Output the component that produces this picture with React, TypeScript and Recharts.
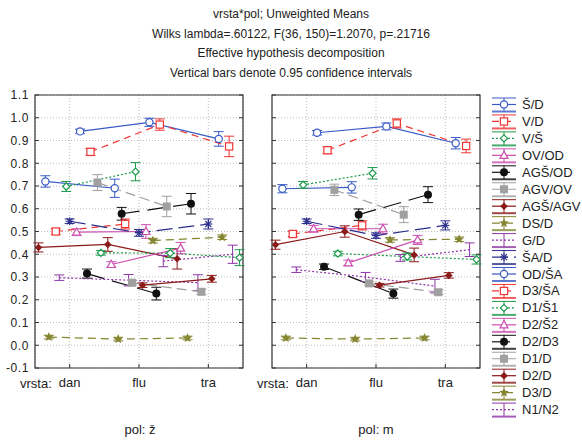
import React from 'react';
import { LineChart, Line, XAxis, YAxis, CartesianGrid, ErrorBar, ReferenceArea } from 'recharts';

const CATEGORIES = ['dan', 'flu', 'tra'];

const SERIES_NAMES = [
  'Š/D', 'V/D', 'V/Š', 'OV/OD', 'AGŠ/OD', 'AGV/OV', 'AGŠ/AGV', 'DS/D', 'G/D', 'ŠA/D',
  'OD/ŠA', 'D3/ŠA', 'D1/Š1', 'D2/Š2', 'D2/D3', 'D1/D', 'D2/D', 'D3/D', 'N1/N2',
];

// unweighted means, pol: ž  (null = point falls outside the plot)
const MEANS_F: (number | null)[][] = [
  [null, 0.72, 0.69],
  [null, 0.5, 0.533],
  [null, 0.698, 0.763],
  [null, 0.497, 0.5],
  [null, 0.315, 0.227],
  [null, 0.715, 0.61],
  [0.43, 0.443, 0.38],
  [0.036, 0.027, 0.032],
  [0.297, 0.286, 0.275],
  [0.545, 0.494, 0.533],
  [0.94, 0.98, 0.907],
  [0.85, 0.97, 0.874],
  [0.406, 0.405, 0.385],
  [0.355, 0.427, null],
  [0.578, 0.622, null],
  [0.275, 0.235, null],
  [0.264, 0.292, null],
  [0.46, 0.475, null],
  [0.37, 0.4, null],
];

// half width of the 0.95 confidence interval, pol: ž
const CI_F: (number | null)[][] = [
  [null, 0.025, 0.04],
  [null, 0.012, 0.022],
  [null, 0.022, 0.04],
  [null, 0.015, 0.03],
  [null, 0.02, 0.028],
  [null, 0.035, 0.045],
  [0.02, 0.03, 0.045],
  [0.008, 0.008, 0.008],
  [0.012, 0.025, 0.035],
  [0.01, 0.015, 0.022],
  [0.01, 0.018, 0.032],
  [0.015, 0.025, 0.045],
  [0.01, 0.02, 0.035],
  [0.012, 0.025, null],
  [0.028, 0.045, null],
  [0.01, 0.012, null],
  [0.01, 0.015, null],
  [0.01, 0.01, null],
  [0.025, 0.04, null],
];

// unweighted means, pol: m
const MEANS_M: (number | null)[][] = [
  [null, 0.688, 0.694],
  [null, 0.489, 0.527],
  [null, 0.705, 0.756],
  [null, 0.512, 0.512],
  [null, 0.345, 0.227],
  [null, 0.683, 0.574],
  [0.442, 0.5, 0.397],
  [0.032, 0.027, 0.032],
  [0.332, 0.3, 0.26],
  [0.545, 0.482, 0.527],
  [0.934, 0.962, 0.888],
  [0.857, 0.975, 0.876],
  [0.403, 0.39, 0.377],
  [0.362, 0.463, null],
  [0.574, 0.662, null],
  [0.272, 0.233, null],
  [0.264, 0.307, null],
  [0.463, 0.466, null],
  [0.384, 0.42, null],
];

const CI_M: (number | null)[][] = [
  [null, 0.018, 0.025],
  [null, 0.012, 0.02],
  [null, 0.015, 0.025],
  [null, 0.015, 0.02],
  [null, 0.012, 0.02],
  [null, 0.025, 0.035],
  [0.02, 0.025, 0.03],
  [0.008, 0.008, 0.008],
  [0.012, 0.02, 0.03],
  [0.01, 0.012, 0.02],
  [0.01, 0.015, 0.025],
  [0.015, 0.02, 0.03],
  [0.01, 0.015, 0.02],
  [0.012, 0.02, null],
  [0.025, 0.035, null],
  [0.008, 0.01, null],
  [0.008, 0.012, null],
  [0.01, 0.01, null],
  [0.015, 0.03, null],
];

const Y_TICKS = [-0.1, 0, 0.1, 0.2, 0.3, 0.4, 0.5, 0.6, 0.7, 0.8, 0.9, 1.0, 1.1];

const TITLE_LINES = [
  'vrsta*pol; Unweighted Means',
  'Wilks lambda=.60122, F(36, 150)=1.2070, p=.21716',
  'Effective hypothesis decomposition',
  'Vertical bars denote 0.95 confidence intervals',
];

const FONT = '"Liberation Sans", Arial, sans-serif';
const TEXT = '#222';
const JITTER = 0.15; // horizontal shift between consecutive variables (in category units)

type MarkerKind =
  | 'circleOpen' | 'squareOpen' | 'diamondOpen' | 'triangleOpen' | 'circleFilled'
  | 'squareFilled' | 'diamondFilled' | 'star' | 'none' | 'asterisk';

const STYLES: { color: string; dash?: string; marker: MarkerKind }[] = [
  { color: '#3a5bc7', marker: 'circleOpen' },
  { color: '#f03535', dash: '7 5', marker: 'squareOpen' },
  { color: '#1d9a4c', dash: '2 2', marker: 'diamondOpen' },
  { color: '#cc4fb0', marker: 'triangleOpen' },
  { color: '#111111', dash: '18 8', marker: 'circleFilled' },
  { color: '#a0a0a0', dash: '10 5', marker: 'squareFilled' },
  { color: '#8b1a1a', marker: 'diamondFilled' },
  { color: '#858532', dash: '8 5', marker: 'star' },
  { color: '#8e35a8', dash: '2 2', marker: 'none' },
  { color: '#2b2e8c', dash: '16 6', marker: 'asterisk' },
];

const styleOf = (i: number) => STYLES[i % STYLES.length];

function Marker({ kind, cx, cy, color }: { kind: MarkerKind; cx: number; cy: number; color: string }) {
  switch (kind) {
    case 'circleOpen':
      return <circle cx={cx} cy={cy} r={3.6} fill="#fff" stroke={color} strokeWidth={1.2} />;
    case 'squareOpen':
      return <rect x={cx - 3.6} y={cy - 3.6} width={7.2} height={7.2} fill="#fff" stroke={color} strokeWidth={1.2} />;
    case 'diamondOpen':
      return <polygon points={`${cx},${cy - 3.6} ${cx + 3.6},${cy} ${cx},${cy + 3.6} ${cx - 3.6},${cy}`} fill="#fff" stroke={color} strokeWidth={1.2} />;
    case 'triangleOpen':
      return <polygon points={`${cx},${cy - 4.2} ${cx + 4},${cy + 3} ${cx - 4},${cy + 3}`} fill="#fff" stroke={color} strokeWidth={1.2} />;
    case 'circleFilled':
      return <circle cx={cx} cy={cy} r={4} fill={color} />;
    case 'squareFilled':
      return <rect x={cx - 4} y={cy - 4} width={8} height={8} fill={color} />;
    case 'diamondFilled':
      return <polygon points={`${cx},${cy - 3.8} ${cx + 3.8},${cy} ${cx},${cy + 3.8} ${cx - 3.8},${cy}`} fill={color} />;
    case 'star': {
      const pts: string[] = [];
      for (let k = 0; k < 10; k++) {
        const r = k % 2 === 0 ? 5 : 2.2;
        const a = -Math.PI / 2 + (k * Math.PI) / 5;
        pts.push(`${cx + r * Math.cos(a)},${cy + r * Math.sin(a)}`);
      }
      return <polygon points={pts.join(' ')} fill={color} />;
    }
    case 'asterisk':
      return (
        <g stroke={color} strokeWidth={1.1}>
          <line x1={cx - 4} y1={cy} x2={cx + 4} y2={cy} />
          <line x1={cx - 3} y1={cy - 3} x2={cx + 3} y2={cy + 3} />
          <line x1={cx - 3} y1={cy + 3} x2={cx + 3} y2={cy - 3} />
          <line x1={cx} y1={cy - 4} x2={cx} y2={cy + 4} />
        </g>
      );
    default:
      return <g />;
  }
}

function buildSeries(means: (number | null)[][], ci: (number | null)[][], i: number) {
  return CATEGORIES.map((cat, k) => ({
    cat,
    x: k + 0.5 + (i - 9) * JITTER,
    y: means[i][k],
    e: ci[i][k],
  })).filter((p) => p.y !== null);
}

const tickStyle = { fontSize: 12, fill: TEXT, fontFamily: FONT, letterSpacing: 0.6 };

function Panel({ means, ci, showLabels }: { means: (number | null)[][]; ci: (number | null)[][]; showLabels: boolean }) {
  return (
    <LineChart width={250} height={441} margin={{ top: 95, right: 5, bottom: 43, left: 0 }}>
      <CartesianGrid strokeDasharray="1 2" stroke="#bdbdbd" />
      <XAxis
        type="number"
        dataKey="x"
        domain={[0, 3]}
        ticks={[0.5, 1.5, 2.5]}
        interval={0}
        allowDataOverflow
        tickFormatter={(v: number) => CATEGORIES[Math.floor(v)]}
        axisLine={false}
        tickLine={{ stroke: '#333' }}
        tickSize={-4}
        tickMargin={14}
        height={30}
        tick={{ fontSize: 13, fill: TEXT, fontFamily: FONT }}
      />
      <YAxis
        type="number"
        domain={[-0.1, 1.1]}
        ticks={Y_TICKS}
        interval={0}
        allowDataOverflow
        width={35}
        axisLine={false}
        tickLine={{ stroke: '#333' }}
        tickSize={-4}
        tickMargin={10}
        tickFormatter={(v: number) => v.toFixed(1)}
        tick={showLabels ? tickStyle : { ...tickStyle, fill: 'none' }}
      />
      <YAxis
        yAxisId="r"
        orientation="right"
        type="number"
        domain={[-0.1, 1.1]}
        ticks={Y_TICKS}
        interval={0}
        allowDataOverflow
        width={2}
        axisLine={false}
        tickLine={{ stroke: '#333' }}
        tickSize={-4}
        tick={{ fill: 'none', fontSize: 1 }}
      />
      {SERIES_NAMES.map((name, i) => {
        const s = styleOf(i);
        return (
          <Line
            key={name}
            data={buildSeries(means, ci, i)}
            dataKey="y"
            name={name}
            stroke={s.color}
            strokeWidth={1.2}
            strokeDasharray={s.dash}
            activeDot={false}
            legendType="none"
            isAnimationActive={false}
            dot={(p: any) => <Marker key={`${name}-${p.index}`} kind={s.marker} cx={p.cx} cy={p.cy} color={s.color} />}
          >
            <ErrorBar dataKey="e" width={5} stroke={s.color} strokeWidth={1} direction="y" isAnimationActive={false} />
          </Line>
        );
      })}
      <ReferenceArea x1={0} x2={3} y1={-0.1} y2={1.1} fill="none" stroke="#333" strokeWidth={1.2} ifOverflow="visible" />
    </LineChart>
  );
}

function LegendSymbol({ i, y }: { i: number; y: number }) {
  const s = styleOf(i);
  const x0 = 492;
  const x1 = 516;
  const cx = (x0 + x1) / 2;
  return (
    <g>
      <line x1={x0} x2={x1} y1={y - 6.5} y2={y - 6.5} stroke={s.color} strokeWidth={1} />
      <line x1={x0} x2={x1} y1={y + 7} y2={y + 7} stroke={s.color} strokeWidth={2} opacity={0.8} />
      <line x1={cx} x2={cx} y1={y - 6.5} y2={y + 7} stroke={s.color} strokeWidth={1} />
      <line x1={x0} x2={x1} y1={y} y2={y} stroke={s.color} strokeWidth={1.2} strokeDasharray={s.dash} />
      <Marker kind={s.marker} cx={cx} cy={y} color={s.color} />
    </g>
  );
}

export default function App() {
  const legendTop = 104.5;
  const legendStep = 16.95;
  return (
    <div style={{ position: 'absolute', left: 0, top: 0, width: 582, height: 441, background: '#fff', fontFamily: FONT }}>
      <svg width={582} height={441} style={{ position: 'absolute', left: 0, top: 0 }}>
        {TITLE_LINES.map((t, k) => (
          <text key={t} x={291} y={18 + k * 19.7} textAnchor="middle" fontSize={12} fill={TEXT} fontFamily={FONT}>
            {t}
          </text>
        ))}
        <text x={20} y={388} fontSize={13} fill={TEXT} fontFamily={FONT}>vrsta:</text>
        <text x={257} y={388} fontSize={13} fill={TEXT} fontFamily={FONT}>vrsta:</text>
        <text x={140} y={434} textAnchor="middle" fontSize={13} fill={TEXT} fontFamily={FONT}>pol: ž</text>
        <text x={376} y={434} textAnchor="middle" fontSize={13} fill={TEXT} fontFamily={FONT}>pol: m</text>
        {SERIES_NAMES.map((name, i) => {
          const y = legendTop + i * legendStep;
          return (
            <g key={name}>
              <LegendSymbol i={i} y={y} />
              <text x={522} y={y + 4.5} fontSize={13} fill={TEXT} fontFamily={FONT}>{name}</text>
            </g>
          );
        })}
      </svg>
      <div style={{ position: 'absolute', left: 0, top: 0 }}>
        <Panel means={MEANS_F} ci={CI_F} showLabels />
      </div>
      <div style={{ position: 'absolute', left: 237, top: 0 }}>
        <Panel means={MEANS_M} ci={CI_M} showLabels={false} />
      </div>
    </div>
  );
}
